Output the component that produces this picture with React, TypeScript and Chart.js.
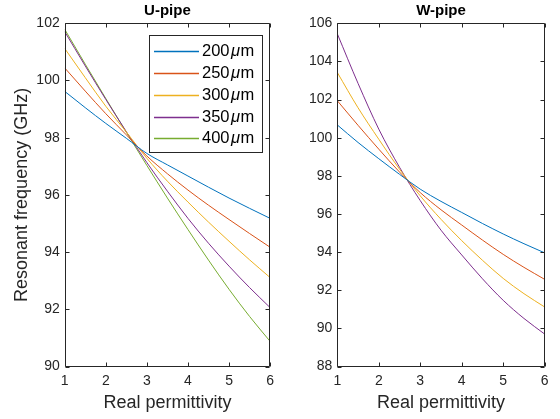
import { useEffect, useRef } from "react";
import { Chart, registerables } from "chart.js";

Chart.register(...registerables);

// ---- data ----
const permittivity = [1, 1.5, 2, 2.5, 3, 3.5, 4, 4.5, 5, 5.5, 6];
const widthLabels = ["200", "250", "300", "350", "400"];

const u200 = [99.62, 99.05, 98.5, 97.98, 97.45, 97.05, 96.66, 96.27, 95.89, 95.53, 95.18];
const u250 = [100.44, 99.63, 98.84, 98.1, 97.36, 96.74, 96.17, 95.64, 95.14, 94.65, 94.17];
const u300 = [101.12, 100.1, 99.1, 98.2, 97.28, 96.48, 95.75, 95.05, 94.38, 93.73, 93.11];
const u350 = [101.71, 100.51, 99.34, 98.21, 97.13, 96.13, 95.18, 94.31, 93.51, 92.76, 92.06];
const u400 = [101.79, 100.57, 99.37, 98.19, 97.03, 95.89, 94.79, 93.72, 92.7, 91.75, 90.88];

const w200 = [100.67, 99.75, 98.9, 98.08, 97.3, 96.66, 96.08, 95.5, 94.95, 94.44, 93.96];
const w250 = [101.94, 100.65, 99.4, 98.2, 97.12, 96.22, 95.42, 94.63, 93.88, 93.2, 92.57];
const w300 = [103.42, 101.57, 99.92, 98.35, 96.95, 95.72, 94.6, 93.57, 92.62, 91.82, 91.12];
const w350 = [105.45, 102.85, 100.45, 98.45, 96.7, 95.15, 93.85, 92.6, 91.47, 90.52, 89.7];

const uSeries = [u200, u250, u300, u350, u400];
const wSeries = [w200, w250, w300, w350];

const xTitle = "Real permittivity";
const yTitle = "Resonant frequency (GHz)";

// ---- styles ----
const COLORS = ["#0072BD", "#D95319", "#EDB120", "#7E2F8E", "#77AC30"];
const FONT = '"Liberation Sans", Arial, sans-serif';
const AXIS = "#262626";
const H = 419;

type Opts = {
  title: string;
  series: number[][];
  yMin: number;
  yMax: number;
  yAxisWidth: number;
  rightPad: number;
  showYTitle: boolean;
  showLegend: boolean;
};

function buildConfig(o: Opts): any {
  const datasets = o.series.map((vals, i) => ({
    label: widthLabels[i],
    data: permittivity.map((x, j) => ({ x, y: vals[j] })),
    borderColor: COLORS[i],
    backgroundColor: COLORS[i],
    borderWidth: 1,
    pointRadius: 0,
    cubicInterpolationMode: "monotone",
    fill: false,
  }));

  const framePlugin = {
    id: "frame",
    afterDraw(chart: any) {
      const { ctx, chartArea, scales } = chart;
      const { left, right, top, bottom } = chartArea;
      const L = Math.round(left) + 0.5;
      const R = Math.round(right) - 0.5;
      const T = Math.round(top) + 0.5;
      const B = Math.round(bottom) - 0.5;
      ctx.save();
      ctx.strokeStyle = AXIS;
      ctx.lineWidth = 1;
      ctx.beginPath();
      ctx.rect(L, T, R - L, B - T);
      const tl = 4;
      scales.x.ticks.forEach((t: any) => {
        const px = Math.round(scales.x.getPixelForValue(t.value)) + 0.5;
        ctx.moveTo(px, B);
        ctx.lineTo(px, B - tl);
        ctx.moveTo(px, T);
        ctx.lineTo(px, T + tl);
      });
      scales.y.ticks.forEach((t: any) => {
        const py = Math.round(scales.y.getPixelForValue(t.value)) + 0.5;
        ctx.moveTo(L, py);
        ctx.lineTo(L + tl, py);
        ctx.moveTo(R, py);
        ctx.lineTo(R - tl, py);
      });
      ctx.stroke();

      // title
      ctx.fillStyle = "#000";
      ctx.font = `bold 15px ${FONT}`;
      ctx.textAlign = "center";
      ctx.textBaseline = "middle";
      ctx.fillText(o.title, (left + right) / 2, 11);

      // legend
      if (o.showLegend) {
        const bx = Math.round(right - 121.5);
        const bxR = Math.round(right - 8.5);
        const by = Math.round(top + 12);
        const byB = Math.round(top + 129);
        ctx.fillStyle = "#fff";
        ctx.fillRect(bx, by, bxR - bx, byB - by);
        ctx.strokeStyle = AXIS;
        ctx.lineWidth = 1;
        ctx.strokeRect(bx + 0.5, by + 0.5, bxR - bx, byB - by);
        chart.data.datasets.forEach((ds: any, i: number) => {
          const cy = top + 27.8 + i * 21.8;
          ctx.strokeStyle = ds.borderColor;
          ctx.lineWidth = 1.4;
          ctx.beginPath();
          ctx.moveTo(bx + 5, Math.round(cy) + 0.5);
          ctx.lineTo(bx + 50, Math.round(cy) + 0.5);
          ctx.stroke();
          ctx.fillStyle = "#000";
          ctx.textAlign = "left";
          ctx.textBaseline = "middle";
          let tx = bx + 53;
          ctx.font = `16.5px ${FONT}`;
          ctx.fillText(ds.label, tx, cy + 0.5);
          tx += ctx.measureText(ds.label).width + 1.5;
          ctx.font = `italic 16.5px ${FONT}`;
          ctx.fillText("\u03bc", tx, cy + 0.5);
          tx += ctx.measureText("\u03bc").width + 0.5;
          ctx.font = `16.5px ${FONT}`;
          ctx.fillText("m", tx, cy + 0.5);
        });
      }
      ctx.restore();
    },
  };

  return {
    type: "line",
    data: { datasets },
    plugins: [framePlugin],
    options: {
      responsive: false,
      animation: false,
      layout: { padding: { left: 0, top: 23.3, right: o.rightPad, bottom: 0 } },
      plugins: { legend: { display: false }, tooltip: { enabled: false }, title: { display: false } },
      scales: {
        x: {
          type: "linear",
          min: 1,
          max: 6,
          grid: { display: false, drawTicks: false },
          border: { display: false },
          ticks: { stepSize: 1, color: AXIS, font: { family: FONT, size: 14 }, padding: 6, maxRotation: 0 },
          title: {
            display: true,
            text: xTitle,
            color: AXIS,
            font: { family: FONT, size: 18 },
            padding: { top: 0, bottom: 5 },
          },
          afterFit: (s: any) => {
            s.height = H - 366.5;
          },
        },
        y: {
          type: "linear",
          min: o.yMin,
          max: o.yMax,
          grid: { display: false, drawTicks: false },
          border: { display: false },
          ticks: { stepSize: 2, color: AXIS, font: { family: FONT, size: 14 }, padding: 5 },
          title: {
            display: o.showYTitle,
            text: yTitle,
            color: AXIS,
            font: { family: FONT, size: 18 },
            padding: { top: 11, bottom: 0 },
          },
          afterFit: (s: any) => {
            s.width = o.yAxisWidth;
          },
        },
      },
    },
  };
}

export default function App() {
  const leftRef = useRef<HTMLCanvasElement>(null);
  const rightRef = useRef<HTMLCanvasElement>(null);

  useEffect(() => {
    const c1 = new Chart(
      leftRef.current!,
      buildConfig({
        title: "U-pipe",
        series: uSeries,
        yMin: 90,
        yMax: 102,
        yAxisWidth: 64.7,
        rightPad: 280 - 271.5,
        showYTitle: true,
        showLegend: true,
      })
    );
    const c2 = new Chart(
      rightRef.current!,
      buildConfig({
        title: "W-pipe",
        series: wSeries,
        yMin: 88,
        yMax: 106,
        yAxisWidth: 57.3,
        rightPad: 280 - 264.7,
        showYTitle: false,
        showLegend: false,
      })
    );
    return () => {
      c1.destroy();
      c2.destroy();
    };
  }, []);

  return (
    <div style={{ position: "fixed", left: 0, top: 0, width: 560, height: 419, background: "#fff" }}>
      <canvas ref={leftRef} width={280} height={419} style={{ position: "absolute", left: 0, top: 0 }} />
      <canvas ref={rightRef} width={280} height={419} style={{ position: "absolute", left: 280, top: 0 }} />
    </div>
  );
}
